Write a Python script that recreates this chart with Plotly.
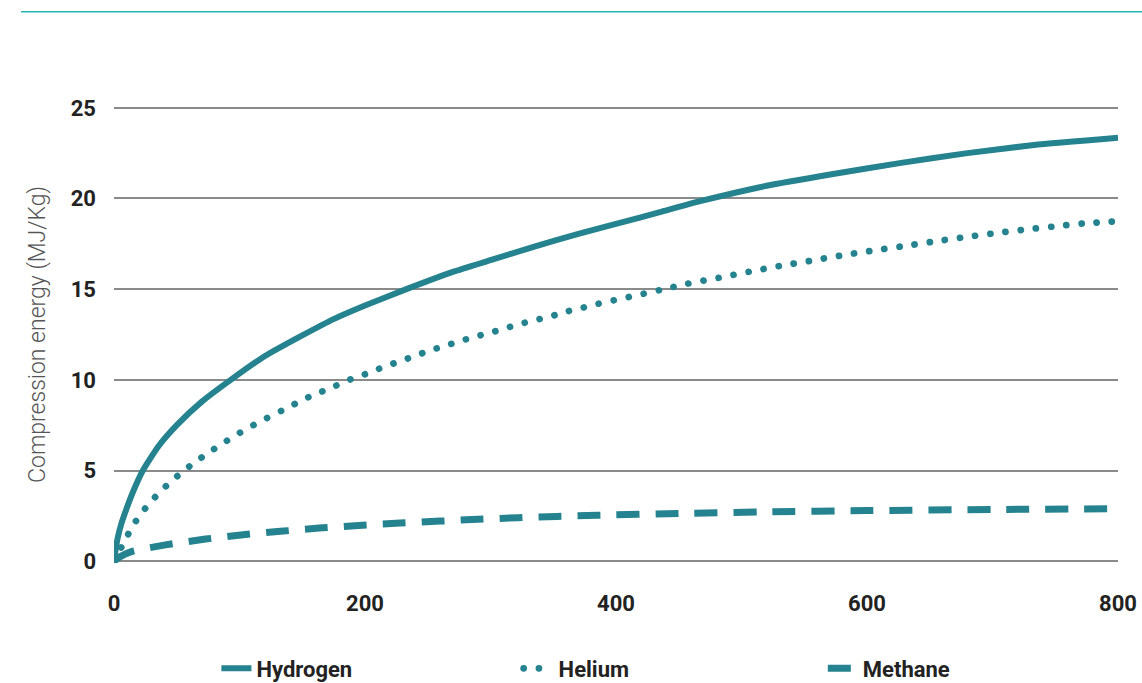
import plotly.graph_objects as go

# Data (pressure in bar -> compression energy MJ/kg)
h2_x = [0, 1, 3, 6, 10, 15, 23, 35, 50, 70, 93, 120, 150, 175, 200, 233, 270, 300, 335, 370,
        403, 435, 467, 520, 573, 626, 680, 733, 800]
h2_y = [0, 0.5, 1.3, 2.1, 2.9, 3.8, 5.0, 6.3, 7.5, 8.8, 10.0, 11.3, 12.45, 13.35, 14.1, 15.0,
        15.95, 16.6, 17.35, 18.05, 18.65, 19.25, 19.85, 20.7, 21.35, 21.95, 22.5, 22.95, 23.35]

he_x = [0, 9, 15, 22, 30, 39, 48, 58, 68, 79, 89, 100, 111, 122, 134, 145, 156, 168, 180, 191,
        204, 215, 227, 239, 251, 263, 276, 287, 300, 312, 324, 336, 348, 361, 373, 385, 398,
        435, 457, 482, 506, 530, 554, 578, 602, 627, 651, 676, 700, 724, 748, 772, 800]
he_y = [0, 1.18, 1.96, 2.66, 3.33, 3.98, 4.55, 5.12, 5.63, 6.15, 6.6, 7.07, 7.5, 7.9, 8.31, 8.7,
        9.08, 9.42, 9.77, 10.1, 10.4, 10.72, 11.0, 11.3, 11.6, 11.86, 12.14, 12.37, 12.6, 12.85,
        13.09, 13.3, 13.5, 13.77, 13.97, 14.18, 14.38, 14.95, 15.3, 15.63, 15.96, 16.27, 16.55,
        16.84, 17.1, 17.35, 17.6, 17.85, 18.07, 18.27, 18.45, 18.62, 18.75]

ch4_x = [0, 5, 15, 41, 73, 103, 135, 166, 198, 228, 260, 290, 322, 353, 385, 450, 520, 600, 700, 800]
ch4_y = [0, 0.25, 0.55, 0.9, 1.22, 1.46, 1.66, 1.84, 1.98, 2.1, 2.21, 2.31, 2.4, 2.47, 2.53,
         2.63, 2.72, 2.79, 2.85, 2.89]

x_ticks = [0, 200, 400, 600, 800]
y_ticks = [0, 5, 10, 15, 20, 25]
legend_names = ["Hydrogen", "Helium", "Methane"]

TEAL = "#24838F"
FONT = "Roboto"

fig = go.Figure()
fig.add_trace(go.Scatter(x=h2_x, y=h2_y, name=legend_names[0], mode="lines",
                         line=dict(color=TEAL, width=6, shape="spline", smoothing=0.5),
                         legend="legend", cliponaxis=False))
fig.add_trace(go.Scatter(x=he_x, y=he_y, name=legend_names[1], mode="lines",
                         line=dict(color=TEAL, width=6.7, dash="0.1px,15.2px", shape="spline", smoothing=0.5),
                         legend="legend2", cliponaxis=False))
fig.add_trace(go.Scatter(x=ch4_x, y=ch4_y, name=legend_names[2], mode="lines",
                         line=dict(color=TEAL, width=7, dash="23px,16px", shape="spline", smoothing=0.5),
                         legend="legend3", cliponaxis=False))

leg_common = dict(orientation="h", yanchor="middle", y=-0.231, xanchor="left",
                  font=dict(family=FONT, size=22, color="#222222", weight="bold"),
                  bgcolor="rgba(0,0,0,0)", itemwidth=30)

tickfont = dict(family=FONT, size=22, color="#222222", weight="bold")

fig.update_layout(
    width=1142, height=683,
    margin=dict(l=114, r=24, t=106.2, b=119.7, autoexpand=False),
    paper_bgcolor="white", plot_bgcolor="white",
    showlegend=True,
    legend=dict(leg_common, x=0.102),
    legend2=dict(leg_common, x=0.403),
    legend3=dict(leg_common, x=0.706),
    xaxis=dict(range=[0, 800], tickvals=x_ticks, showgrid=False, zeroline=False,
               showline=False, ticks="", ticklabelstandoff=25, tickfont=tickfont),
    yaxis=dict(range=[-0.1, 25.1], tickvals=y_ticks, showgrid=True, gridcolor="#8a8a8a",
               gridwidth=1.5, zeroline=False, showline=False, ticks="",
               ticklabelstandoff=17, tickfont=tickfont,
               title=dict(text="Compression energy (MJ/Kg)", standoff=18,
                          font=dict(family=FONT, size=23, color="#555555", weight=300))),
    shapes=[dict(type="line", xref="paper", yref="paper",
                 x0=-0.0926, x1=1.03, y0=1.206, y1=1.206,
                 line=dict(color="#2BB3AF", width=1.5))],
)

post = """
var s = document.createElement('style');
s.innerHTML = 'html,body{margin:0;padding:0;overflow:hidden;} .scatterlayer .trace:nth-child(2) .js-line{stroke-linecap:round !important;} g[class*="legend2"] .legendlines path{stroke-linecap:round !important;}';
document.head.appendChild(s);
"""
fig.write_html("out.html", post_script=post, config={"displayModeBar": False})
